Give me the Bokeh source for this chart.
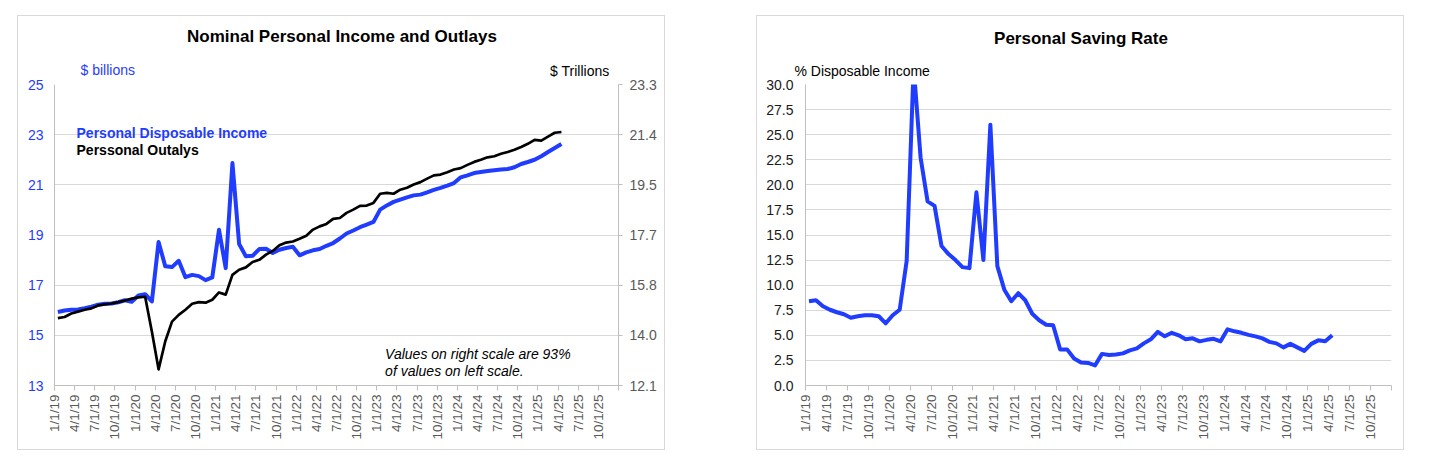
import numpy as np
from math import pi
from bokeh.plotting import figure
from bokeh.models import Range1d, LinearAxis, FixedTicker, Label, PrintfTickFormatter
from bokeh.layouts import row
from bokeh.embed import file_html
from bokeh.resources import INLINE

# ---------------- data ----------------
x_tick_labels = ["1/1/19", "4/1/19", "7/1/19", "10/1/19",
                 "1/1/20", "4/1/20", "7/1/20", "10/1/20",
                 "1/1/21", "4/1/21", "7/1/21", "10/1/21",
                 "1/1/22", "4/1/22", "7/1/22", "10/1/22",
                 "1/1/23", "4/1/23", "7/1/23", "10/1/23",
                 "1/1/24", "4/1/24", "7/1/24", "10/1/24",
                 "1/1/25", "4/1/25", "7/1/25", "10/1/25"]

# Personal disposable income (left scale)
disposable_income = [
    15.93, 15.99, 16.02, 16.03, 16.08, 16.14, 16.22, 16.26, 16.27, 16.32, 16.40, 16.34,
    16.59, 16.64, 16.35, 18.72, 17.75, 17.72, 17.97, 17.32, 17.41, 17.36, 17.20, 17.31,
    19.21, 17.68, 21.87, 18.64, 18.15, 18.17, 18.44, 18.45, 18.28, 18.41, 18.48, 18.53,
    18.19, 18.31, 18.39, 18.44, 18.57, 18.68, 18.86, 19.06, 19.18, 19.31, 19.41, 19.52,
    20.01, 20.18, 20.32, 20.41, 20.50, 20.58, 20.61, 20.70, 20.80, 20.88, 20.97, 21.07,
    21.30, 21.38, 21.47, 21.51, 21.55, 21.58, 21.61, 21.63, 21.70, 21.83, 21.91, 22.00,
    22.14, 22.31, 22.47, 22.63]

# Personal outlays ($ trillions, right scale)
personal_outlays = [
    14.59, 14.63, 14.76, 14.83, 14.90, 14.95, 15.06, 15.10, 15.13, 15.18, 15.24, 15.31,
    15.36, 15.38, 14.09, 12.69, 13.73, 14.46, 14.71, 14.90, 15.12, 15.18, 15.16, 15.27,
    15.54, 15.46, 16.19, 16.38, 16.47, 16.67, 16.75, 16.94, 17.08, 17.29, 17.39, 17.43,
    17.53, 17.64, 17.87, 17.99, 18.08, 18.27, 18.30, 18.49, 18.61, 18.75, 18.76, 18.86,
    19.20, 19.23, 19.20, 19.35, 19.42, 19.54, 19.63, 19.76, 19.88, 19.91, 20.00, 20.10,
    20.15, 20.27, 20.38, 20.46, 20.55, 20.59, 20.68, 20.75, 20.83, 20.93, 21.05, 21.20,
    21.17, 21.32, 21.46, 21.49]

# Personal saving rate (% of disposable income)
saving_rate = [
    8.4, 8.5, 7.9, 7.55, 7.3, 7.1, 6.75, 6.9, 7.0, 7.0, 6.9, 6.2,
    7.0, 7.55, 12.4, 31.8, 22.7, 18.35, 17.9, 13.9, 13.1, 12.5, 11.8, 11.7,
    19.25, 12.5, 26.0, 11.9, 9.55, 8.4, 9.2, 8.5, 7.15, 6.5, 6.05, 6.0,
    3.6, 3.6, 2.7, 2.3, 2.25, 2.0, 3.15, 3.05, 3.1, 3.2, 3.5, 3.7,
    4.2, 4.6, 5.35, 4.9, 5.25, 5.0, 4.6, 4.7, 4.4, 4.55, 4.65, 4.4,
    5.6, 5.4, 5.25, 5.05, 4.9, 4.7, 4.35, 4.2, 3.8, 4.15, 3.8, 3.45,
    4.15, 4.5, 4.4, 5.0]

left_ticks = [13, 15, 17, 19, 21, 23, 25]
right_tick_labels = ["12.1", "14.0", "15.8", "17.7", "19.5", "21.4", "23.3"]
saving_ticks = [0, 2.5, 5, 7.5, 10, 12.5, 15, 17.5, 20, 22.5, 25, 27.5, 30]

# ---------------- styling ----------------
FONT = "Liberation Sans"
BLUE = "#1f3cff"
GRAY_TXT = "#595959"
AXIS_GRAY = "#bfbfbf"
GRID_GRAY = "#d9d9d9"

x_pos = np.arange(len(disposable_income)) + 0.5
x_ticks = list(range(0, 85, 3))
x_overrides = {t: (x_tick_labels[k] if k < len(x_tick_labels) else " ") for k, t in enumerate(x_ticks)}


def style_xaxis(p):
    ax = p.xaxis[0]
    ax.ticker = FixedTicker(ticks=x_ticks)
    ax.major_label_overrides = x_overrides
    ax.major_label_orientation = pi / 2
    ax.major_label_text_font = FONT
    ax.major_label_text_font_size = "13.5px"
    ax.major_label_text_color = GRAY_TXT
    ax.major_label_standoff = 4
    ax.axis_line_color = AXIS_GRAY
    ax.major_tick_line_color = AXIS_GRAY
    ax.major_tick_out = 5
    ax.major_tick_in = 0
    ax.minor_tick_line_color = None
    p.xgrid.grid_line_color = None


def style_yaxis(ax, color, standoff, tick_out):
    ax.major_label_text_color = color
    ax.major_label_text_font = FONT
    ax.major_label_text_font_size = "14px"
    ax.major_label_standoff = standoff
    ax.axis_line_color = AXIS_GRAY
    ax.major_tick_line_color = AXIS_GRAY if tick_out else None
    ax.major_tick_out = tick_out
    ax.major_tick_in = 0
    ax.minor_tick_line_color = None


def base_fig(width, height, borders, y_range, margin):
    p = figure(width=width, height=height, output_backend="svg", toolbar_location=None,
               x_range=Range1d(0, 84), y_range=y_range,
               min_border_left=borders[0], min_border_right=borders[1],
               min_border_top=borders[2], min_border_bottom=borders[3],
               background_fill_color="white", border_fill_color="white",
               styles={"border": "1px solid #d9d9d9"})
    p.margin = margin
    p.outline_line_color = None
    p.ygrid.grid_line_color = GRID_GRAY
    p.ygrid.grid_line_width = 1.2
    return p


def txt(p, x, y, s, align="left", size="14px", style="normal", color="black", place=None):
    lab = Label(x=x, y=y, text=s, text_align=align, text_baseline="middle",
                text_font=FONT, text_font_size=size, text_font_style=style,
                text_color=color)
    if place:
        p.add_layout(lab, place)
    else:
        p.add_layout(lab)


# ---------------- left panel ----------------
p1 = base_fig(648, 435, (36, 48, 68, 66), Range1d(13, 25), (15, 0, 0, 17))
p1.extra_y_ranges = {"right": Range1d(12.09, 23.25)}
style_xaxis(p1)
ya = p1.yaxis[0]
ya.ticker = FixedTicker(ticks=left_ticks)
style_yaxis(ya, BLUE, 11, 0)

ra = LinearAxis(ticker=FixedTicker(ticks=left_ticks),
                major_label_overrides={t: s for t, s in zip(left_ticks, right_tick_labels)})
style_yaxis(ra, GRAY_TXT, 7, 4)
p1.add_layout(ra, "right")

p1.line(x_pos, disposable_income, line_color=BLUE, line_width=4, line_join="round")
p1.line(x_pos, personal_outlays, y_range_name="right", line_color="black", line_width=2.7,
        line_join="round")

txt(p1, 42.82, 26.91, "Nominal Personal Income and Outlays", align="center", size="17px",
    style="bold", place="above")
txt(p1, 3.88, 25.56, "$ billions", color=BLUE, place="above")
txt(p1, 82.66, 25.52, "$ Trillions", align="right", place="above")
txt(p1, 3.28, 23.05, "Personal Disposable Income", style="bold", color=BLUE)
txt(p1, 3.28, 22.37, "Perssonal Outalys", style="bold")
txt(p1, 49.24, 14.27, "Values on right scale are 93%", style="italic")
txt(p1, 49.24, 13.56, "of values on left scale.", style="italic")

# ---------------- right panel ----------------
p2 = base_fig(648, 435, (48, 14, 68, 66), Range1d(0, 30), (15, 0, 0, 91))
style_xaxis(p2)
ya2 = p2.yaxis[0]
ya2.ticker = FixedTicker(ticks=saving_ticks)
ya2.formatter = PrintfTickFormatter(format="%.1f")
style_yaxis(ya2, "#1a1a1a", 12, 0)

p2.line(x_pos, saving_rate, line_color=BLUE, line_width=4, line_join="round")

txt(p2, 39.49, 34.58, "Personal Saving Rate", align="center", size="17px", style="bold",
    place="above")
txt(p2, -1.58, 31.30, "% Disposable Income", place="above")

layout = row(p1, p2)

open("out.html", "w").write(file_html(layout, INLINE))
